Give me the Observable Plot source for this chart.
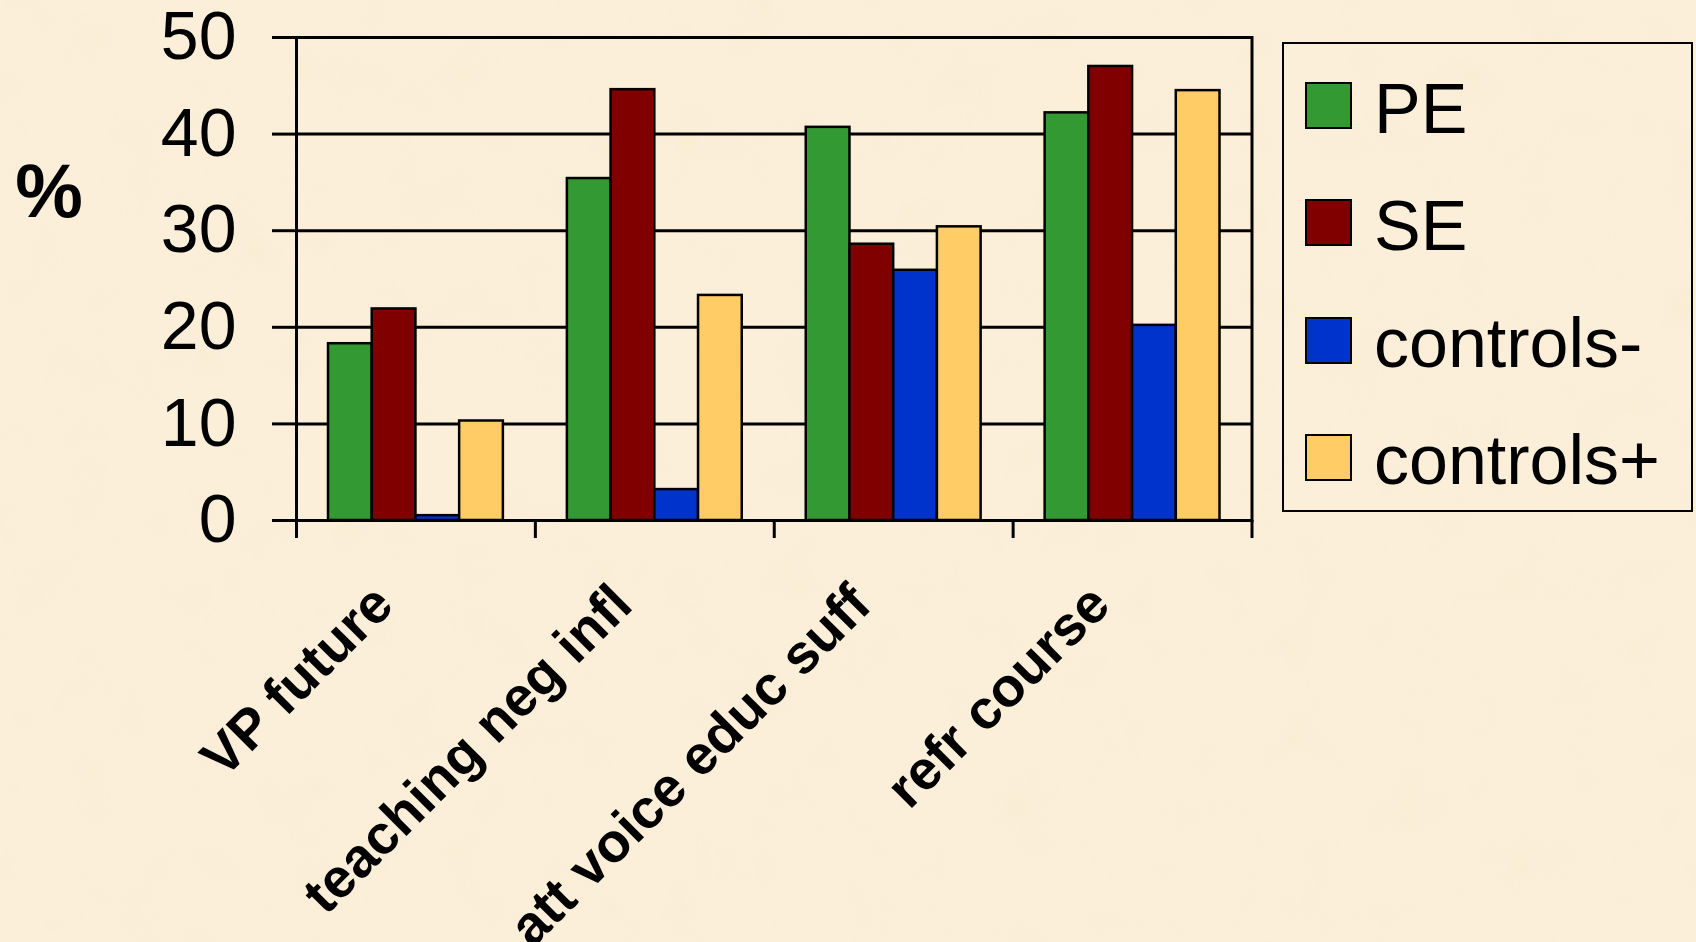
<!DOCTYPE html>
<html>
<head>
<meta charset="utf-8">
<script src="https://cdn.jsdelivr.net/npm/d3@7"></script>
<script src="https://cdn.jsdelivr.net/npm/@observablehq/plot@0.6"></script>
<style>
  html, body { margin: 0; padding: 0; background: #FBEFDA; }
  #wrap { position: relative; width: 1696px; height: 942px; overflow: hidden;
          font-family: "Liberation Sans", Arial, sans-serif; color: #000; }
  #wrap svg { position: absolute; left: 0; top: 0; }
  #paper { position: absolute; left: 0; top: 0; width: 1696px; height: 942px; }
  #ytitle { position: absolute; left: 49px; top: 191px; transform: translate(-50%, -50%);
            font-size: 76px; font-weight: bold; line-height: 1; }
  #legend { position: absolute; left: 1282px; top: 42px; width: 411px; height: 470px;
            box-sizing: border-box; border: 2px solid #000; }
  .item { position: absolute; left: 21px; height: 47px; display: flex; align-items: center; }
  .sw { width: 47px; height: 47px; box-sizing: border-box; border: 2px solid #000; margin-right: 22px; }
  .lab { font-size: 70px; line-height: 1; padding-top: 6px; white-space: nowrap; }
</style>
</head>
<body>
<div id="wrap">
  <!-- faint parchment mottling behind the chart -->
  <svg id="paper" width="1696" height="942">
    <filter id="mottle" x="0" y="0" width="100%" height="100%">
      <feTurbulence type="fractalNoise" baseFrequency="0.018" numOctaves="3" seed="7"/>
      <feColorMatrix type="matrix" values="0 0 0 0 0.93  0 0 0 0 0.82  0 0 0 0 0.62  0 0 0 1.6 -0.75"/>
    </filter>
    <rect width="1696" height="942" filter="url(#mottle)" opacity="0.45"/>
  </svg>
  <div id="ytitle">%</div>
  <div id="legend"></div>
</div>
<script>
// Survey answers (% of respondents) per question and group
const categories = ["VP future", "teaching neg infl", "att voice educ suff", "refr course"];
const seriesNames = ["PE", "SE", "controls-", "controls+"];
const pe = [18.3, 35.4, 40.7, 42.2];
const se = [21.9, 44.6, 28.6, 47.0];
const controlsMinus = [0.5, 3.2, 25.9, 20.2];
const controlsPlus = [10.3, 23.3, 30.4, 44.5];
const yTicks = [0, 10, 20, 30, 40, 50];
const colors = ["#339933", "#800000", "#0033CC", "#FFCC66"];

const seriesValues = [pe, se, controlsMinus, controlsPlus];
const rows = seriesNames.flatMap((s, j) =>
  categories.map((c, i) => ({category: c, series: s, value: seriesValues[j][i]})));

// Layout
const W = 1696, H = 942;
const marginLeft = 296, marginRight = 444.5, marginTop = 37, marginBottom = 422;
const bandW = (W - marginLeft - marginRight) / categories.length;
const groupPad = 32;
const barW = (bandW - 2 * groupPad) / seriesNames.length;
const ink = "#000";

const chart = Plot.plot({
  width: W,
  height: H,
  marginLeft, marginRight, marginTop, marginBottom,
  style: {background: "transparent", color: ink, fontFamily: '"Liberation Sans", Arial, sans-serif', overflow: "visible"},
  x: {domain: categories, padding: 0, round: false, axis: null},
  y: {domain: [0, 50]},
  marks: [
    // horizontal gridlines
    Plot.ruleY(yTicks, {stroke: ink, strokeWidth: 3}),
    // one bar mark per group, offset inside each category band
    ...seriesNames.map((s, j) => Plot.barY(rows.filter(d => d.series === s), {
      x: "category",
      y: "value",
      fill: colors[j],
      stroke: ink,
      strokeWidth: 2.5,
      insetLeft: groupPad + j * barW,
      insetRight: bandW - groupPad - (j + 1) * barW
    })),
    Plot.frame({stroke: ink, strokeWidth: 3}),
    // category separator ticks below the baseline
    Plot.ruleX(categories, {x: d => d, dx: -bandW / 2, y1: () => 0, y2: () => 0, insetBottom: -18, stroke: ink, strokeWidth: 3}),
    Plot.ruleX(categories.slice(-1), {x: d => d, dx: bandW / 2, y1: () => 0, y2: () => 0, insetBottom: -18, stroke: ink, strokeWidth: 3}),
    Plot.axisY({ticks: yTicks, tickSize: 24, tickPadding: 36, fontSize: 68, strokeWidth: 3, label: null}),
    // rotated category labels
    Plot.text(categories, {
      x: d => d,
      frameAnchor: "bottom",
      text: d => d,
      rotate: -45,
      textAnchor: "end",
      lineAnchor: "bottom",
      dx: -20,
      dy: 87,
      fontSize: 55,
      fontWeight: "bold",
      fill: ink
    })
  ]
});
document.getElementById("wrap").appendChild(chart);

// Legend box on the right
const legend = document.getElementById("legend");
seriesNames.forEach((s, j) => {
  const item = document.createElement("div");
  item.className = "item";
  item.style.top = (38 + j * 117.3) + "px";
  const sw = document.createElement("div");
  sw.className = "sw";
  sw.style.background = colors[j];
  const lab = document.createElement("div");
  lab.className = "lab";
  lab.textContent = s;
  item.append(sw, lab);
  legend.appendChild(item);
});
</script>
</body>
</html>
